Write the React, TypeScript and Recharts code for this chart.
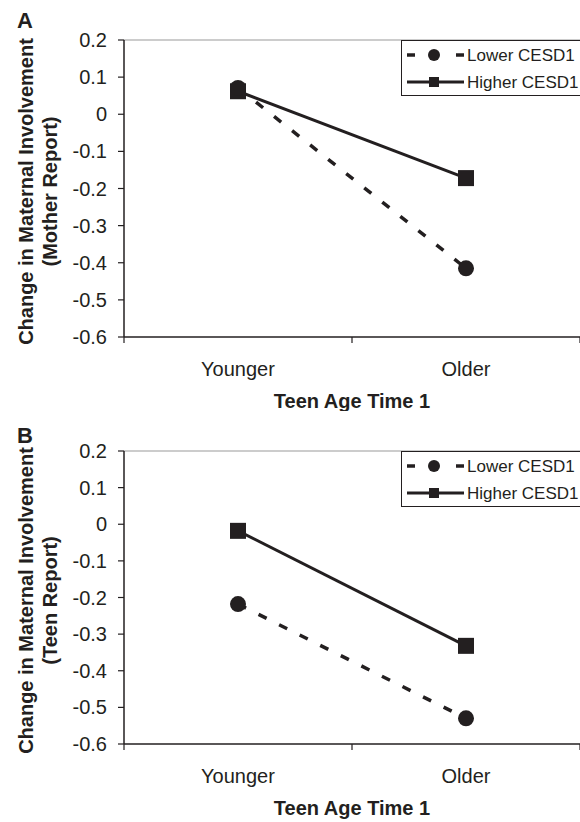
import { LineChart, Line, XAxis, YAxis, ReferenceLine } from 'recharts';

const ageGroups = ['Younger', 'Older'];
const motherLower = [0.071, -0.415];
const motherHigher = [0.062, -0.172];
const teenLower = [-0.218, -0.53];
const teenHigher = [-0.018, -0.332];
const yTicks = [-0.6, -0.5, -0.4, -0.3, -0.2, -0.1, 0, 0.1, 0.2];
const xTicks = [0, 0.5, 1, 1.5, 2];
const seriesNames = ['Lower CESD1', 'Higher CESD1'];

const INK = '#231f20';
const FONT = '"Liberation Sans", Arial, sans-serif';

type PanelProps = {
  letter: string;
  letterY: number;
  yLines: string[];
  lower: number[];
  higher: number[];
  height: number;
  bottom: number;
};

const fmt = (v: number) => (v === 0 ? '0' : v.toFixed(1));

function XTick(props: any) {
  const { x, y, payload } = props;
  const v = payload.value as number;
  if (Number.isInteger(v)) {
    return <line x1={x} y1={y} x2={x} y2={y + 6} stroke={INK} strokeWidth={1.2} />;
  }
  return (
    <text x={x} y={y + 39} textAnchor="middle" fontSize={20} fill={INK} fontFamily={FONT}>
      {ageGroups[Math.floor(v)]}
    </text>
  );
}

function SquareDot(props: any) {
  const { cx, cy, index } = props;
  return <rect key={`sq-${index}`} x={cx - 8} y={cy - 8} width={16} height={16} fill={INK} />;
}

function CircleDot(props: any) {
  const { cx, cy, index } = props;
  return <circle key={`ci-${index}`} cx={cx} cy={cy} r={8} fill={INK} />;
}

function LegendBox() {
  return (
    <div
      style={{
        position: 'absolute',
        left: 401,
        top: 40,
        width: 200,
        height: 56,
        border: `1.5px solid ${INK}`,
        background: '#fff',
        boxSizing: 'border-box',
      }}
    >
      <svg width={200} height={56} style={{ position: 'absolute', left: 0, top: 0 }}>
        <line x1={5} y1={14} x2={13} y2={14} stroke={INK} strokeWidth={3.5} />
        <circle cx={32} cy={14} r={6} fill={INK} />
        <line x1={54} y1={14} x2={62} y2={14} stroke={INK} strokeWidth={3.5} />
        <text x={65} y={20} fontSize={17} fill={INK} fontFamily={FONT}>{seriesNames[0]}</text>
        <line x1={5} y1={41} x2={62} y2={41} stroke={INK} strokeWidth={3} />
        <rect x={27} y={36} width={10} height={10} fill={INK} />
        <text x={65} y={47} fontSize={17} fill={INK} fontFamily={FONT}>{seriesNames[1]}</text>
      </svg>
    </div>
  );
}

function Panel({ letter, letterY, yLines, lower, higher, height, bottom }: PanelProps) {
  const data = ageGroups.map((name, i) => ({ name, pos: i + 0.5, lower: lower[i], higher: higher[i] }));
  return (
    <LineChart width={580} height={height} data={data} margin={{ top: 40, right: 0, bottom: bottom - 30, left: 64 }}>
      <ReferenceLine y={0.2} stroke="#9a9a9a" strokeWidth={1.2} />
      <XAxis
        dataKey="pos"
        type="number"
        domain={[0, 2]}
        ticks={xTicks}
        interval={0}
        height={30}
        tickLine={false}
        tickSize={0}
        tickMargin={0}
        tick={<XTick />}
        axisLine={{ stroke: INK, strokeWidth: 1.5 }}
        label={{
          content: (p: any) => {
            const vb = p.viewBox;
            return (
              <text x={vb.x + vb.width / 2} y={vb.y + 71} textAnchor="middle" fontSize={20} fontWeight="bold" fill={INK} fontFamily={FONT}>
                Teen Age Time 1
              </text>
            );
          },
        }}
      />
      <YAxis
        type="number"
        domain={[-0.6, 0.2]}
        ticks={yTicks}
        interval={0}
        width={60}
        tickSize={6}
        tickMargin={11}
        tickFormatter={fmt}
        tick={{ fontSize: 20, fill: INK, fontFamily: FONT }}
        tickLine={{ stroke: INK, strokeWidth: 1.2 }}
        axisLine={{ stroke: INK, strokeWidth: 1.5 }}
        label={{
          content: (p: any) => {
            const vb = p.viewBox;
            const cy = vb.y + vb.height / 2 + 3;
            return (
              <g fontFamily={FONT} fontWeight="bold" fill={INK}>
                <text x={17} y={letterY} fontSize={22}>{letter}</text>
                {yLines.map((line, i) => (
                  <text
                    key={line}
                    x={0}
                    y={0}
                    textAnchor="middle"
                    fontSize={20}
                    transform={`translate(${33 + i * 24}, ${cy}) rotate(-90)`}
                  >
                    {line}
                  </text>
                ))}
              </g>
            );
          },
        }}
      />
      <Line
        dataKey="higher"
        stroke={INK}
        strokeWidth={3}
        dot={<SquareDot />}
        activeDot={false}
        isAnimationActive={false}
      />
      <Line
        dataKey="lower"
        stroke={INK}
        strokeWidth={3.5}
        strokeDasharray="9 14"
        dot={<CircleDot />}
        activeDot={false}
        isAnimationActive={false}
      />
    </LineChart>
  );
}

export default function App() {
  return (
    <div
      style={{
        position: 'absolute',
        left: 0,
        top: 0,
        width: 580,
        height: 822,
        overflow: 'hidden',
        background: '#fff',
        fontFamily: FONT,
      }}
    >
      <div style={{ position: 'absolute', left: 0, top: 0 }}>
        <Panel
          letter="A"
          letterY={28}
          yLines={['Change in Maternal Involvement', '(Mother Report)']}
          lower={motherLower}
          higher={motherHigher}
          height={411}
          bottom={74}
        />
        <LegendBox />
      </div>
      <div style={{ position: 'absolute', left: 0, top: 411 }}>
        <Panel
          letter="B"
          letterY={32}
          yLines={['Change in Maternal Involvement', '(Teen Report)']}
          lower={teenLower}
          higher={teenHigher}
          height={411}
          bottom={78}
        />
        <LegendBox />
      </div>
    </div>
  );
}
